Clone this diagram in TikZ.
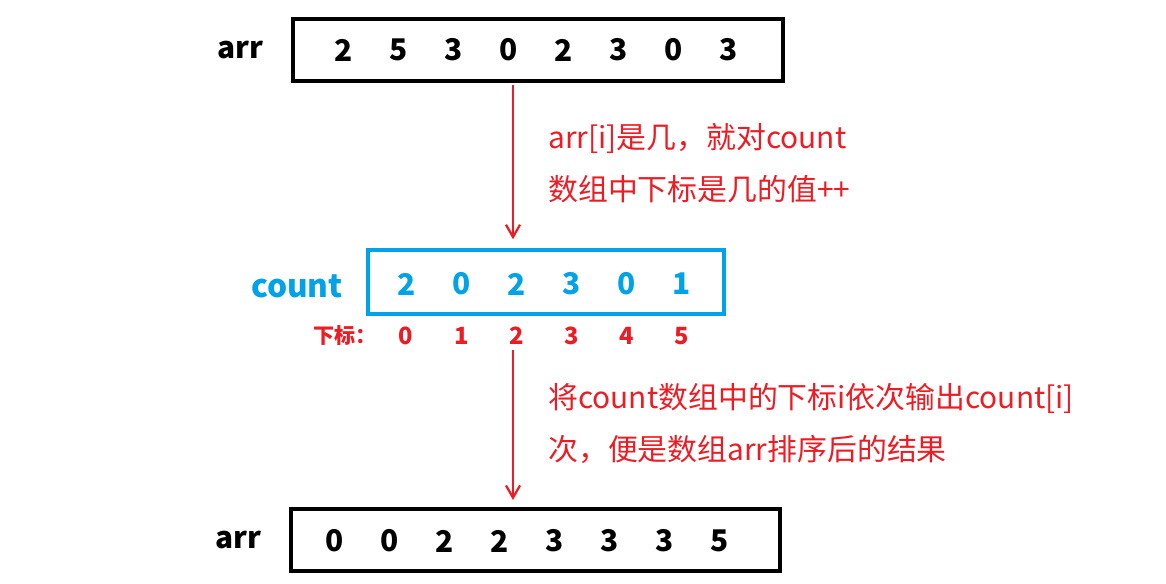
\documentclass[tikz,border=0pt]{standalone}
\usepackage{fontspec}
\setmainfont{Noto Sans CJK SC}
\usetikzlibrary{arrows.meta}
\definecolor{penred}{HTML}{ED1C24}
\definecolor{penblue}{HTML}{00A2E8}

\begin{document}
\begin{tikzpicture}[x=0.02cm, y=-0.02cm,
  every node/.style={font=\fontsize{17}{20}\selectfont\bfseries, inner sep=0pt},
  arrbox/.style={draw=black, line width=2.2pt, minimum height=1.24cm},
  cntbox/.style={draw=penblue, line width=2.2pt, minimum height=1.28cm},
  idx/.style={text=penred, font=\fontsize{13.5}{15}\selectfont\bfseries},
  note/.style={anchor=west, text=penred, font=\fontsize{17}{20}\selectfont},
  flow/.style={penred, line width=1.3pt, -{Straight Barb[length=7pt, width=8pt]}}]
  \useasboundingbox (0,0) rectangle (1166,584);
  % arr before sorting
  \node[arrbox, minimum width=9.8cm] (arr1) at (538,50) {};
  \node (arrlab1) at (240,50) {arr};
  \foreach \v [count=\i] in {2,5,3,0,2,3,0,3}
    \node (a\i) at ({289+55*\i},50) {\v};
  % count array
  \node[cntbox, minimum width=7.12cm] (cnt) at (546,282) {};
  \node[text=penblue, font=\fontsize{18}{20}\selectfont\bfseries] (cntlab) at (297,286) {count};
  \foreach \v [count=\i] in {2,0,2,3,0,1}
    \node[text=penblue] (c\i) at ({352+55*\i},284) {\v};
  % indices
  \node[idx, font=\fontsize{12}{14}\selectfont\bfseries] (idxlab) at (345,335) {下标：};
  \foreach \v [count=\i] in {0,...,5}
    \node[idx] (d\i) at ({351+55.2*\i},336) {\v};
  % arr after sorting
  \node[arrbox, minimum width=9.78cm] (arr2) at (535.5,540) {};
  \node (arrlab2) at (238,540) {arr};
  \foreach \v [count=\i] in {0,0,2,2,3,3,3,5}
    \node (b\i) at ({280+55*\i},541) {\v};
  % arrows
  \coordinate (ax) at (513,0);
  \draw[flow, shorten <=1pt, shorten >=5pt] (arr1.south -| ax) -- (cnt.north -| ax);
  \draw[flow, shorten <=3pt, shorten >=4pt] (d3.south -| ax) -- (arr2.north -| ax);
  % notes
  \node[note] (n1) at (548,138) {arr[i]是几，就对count};
  \node[note] (n2) at (548,189) {数组中下标是几的值++};
  \node[note] (n3) at (548,398) {将count数组中的下标i依次输出count[i]};
  \node[note] (n4) at (548,449) {次，便是数组arr排序后的结果};
\end{tikzpicture}
\end{document}
